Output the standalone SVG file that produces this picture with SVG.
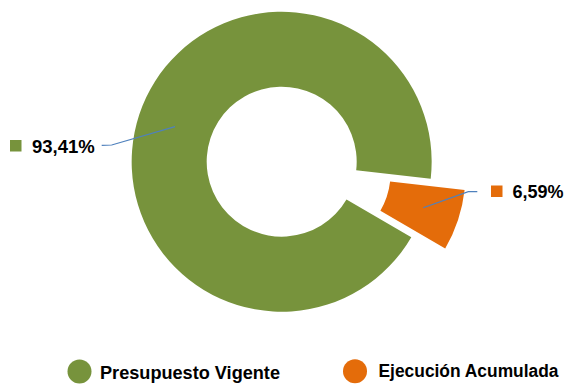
<svg xmlns="http://www.w3.org/2000/svg" width="567" height="385" viewBox="0 0 567 385">
<style>
  .lbl { font-family: "Liberation Sans", Arial, sans-serif; font-weight: bold; fill: #000; }
  .leader { fill: none; stroke: #4F81BD; stroke-width: 1.2; }
  .green { fill: #77933C; }
  .orange { fill: #E46C0A; }
</style>
<rect width="567" height="385" fill="#FFFFFF"/>
<g id="slice-presupuesto">
  <path class="green" d="M 411.3 237.2 A 150 150 0 1 1 430.7 178.7 L 356.2 170.2 A 75 75 0 1 0 346.5 199.4 Z"/>
</g>
<g id="slice-ejecucion">
  <path class="orange" d="M 464.6 190 A 150 150 0 0 1 445.2 248.5 L 380.4 210.7 A 75 75 0 0 0 390.1 181.5 Z"/>
</g>
<g id="connectors">
  <polyline class="leader" points="175,126.7 111.7,145 101.7,145.3"/>
  <polyline class="leader" points="423.3,207.7 468.3,191.7 477.3,191.7"/>
</g>
<g id="label-presupuesto">
  <rect class="green" x="10" y="140" width="11.5" height="11.5"/>
  <text class="lbl" x="32" y="152.7" font-size="18.5">93,41%</text>
</g>
<g id="label-ejecucion">
  <rect class="orange" x="491" y="185.5" width="11.5" height="11.5"/>
  <text class="lbl" x="512.5" y="197.8" font-size="18">6,59%</text>
</g>
<g id="legend-presupuesto">
  <circle class="green" cx="79.5" cy="371.5" r="12"/>
  <text class="lbl" x="100" y="379.2" font-size="17.5" textLength="180" lengthAdjust="spacingAndGlyphs">Presupuesto Vigente</text>
</g>
<g id="legend-ejecucion">
  <circle class="orange" cx="355" cy="371.3" r="12"/>
  <text class="lbl" x="378.5" y="376.7" font-size="17.5" textLength="180" lengthAdjust="spacingAndGlyphs">Ejecución Acumulada</text>
</g>
</svg>
